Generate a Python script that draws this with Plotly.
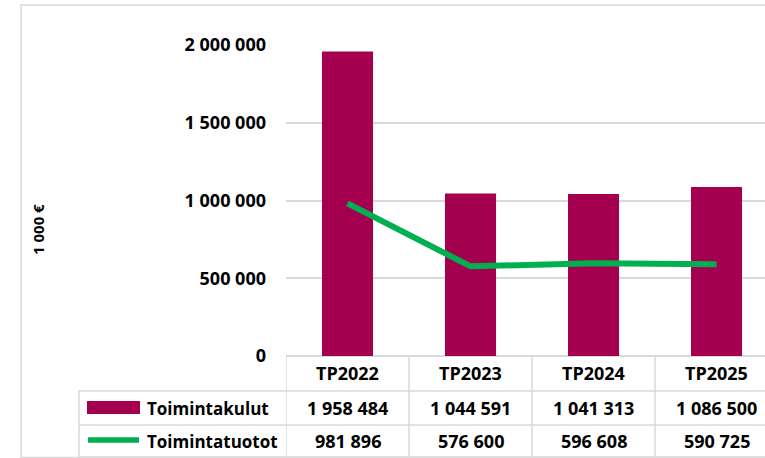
import plotly.graph_objects as go

W, H = 765, 458

# Data
years = ["TP2022", "TP2023", "TP2024", "TP2025"]
kulut = [1958484, 1044591, 1041313, 1086500]
tuotot = [981896, 576600, 596608, 590725]
kulut_labels = ["1 958 484", "1 044 591", "1 041 313", "1 086 500"]
tuotot_labels = ["981 896", "576 600", "596 608", "590 725"]

bar_color = "#A5004F"
line_color = "#00B050"
grid = "#D9D9D9"
font = "Open Sans"

def px(x):
    return x / W

def py(y):
    return 1 - y / H

fig = go.Figure()
fig.add_trace(go.Bar(x=years, y=kulut, width=0.415, marker=dict(color=bar_color, line=dict(width=0)),
                     name="Toimintakulut"))
fig.add_trace(go.Scatter(x=years, y=tuotot, mode="lines", line=dict(color=line_color, width=6),
                         name="Toimintatuotot"))

shapes = []
ann = []

# Outer chart border
shapes.append(dict(type="rect", xref="paper", yref="paper", x0=px(21), x1=px(780), y0=py(457.5), y1=py(5),
                   line=dict(color=grid, width=1.5), layer="below"))

# Data table: horizontal lines
for yy, xa in [(391, 79), (425, 79), (457, 79)]:
    shapes.append(dict(type="line", xref="paper", yref="paper", x0=px(xa), x1=1, y0=py(yy), y1=py(yy),
                       line=dict(color=grid, width=1.5)))
shapes.append(dict(type="line", xref="paper", yref="paper", x0=px(79), x1=px(79), y0=py(391), y1=py(457),
                   line=dict(color=grid, width=1.5)))
# vertical lines at category boundaries
for b in [-0.5, 0.5, 1.5, 2.5]:
    shapes.append(dict(type="line", xref="x", yref="paper", x0=b, x1=b, y0=py(356), y1=py(457),
                       line=dict(color=grid, width=1.5)))

# Legend keys
shapes.append(dict(type="rect", xref="paper", yref="paper", x0=px(87), x1=px(140), y0=py(414), y1=py(401),
                   fillcolor=bar_color, line=dict(width=0)))
shapes.append(dict(type="path", xref="paper", yref="paper",
                   path=f"M {px(88)},{py(440)} L {px(139)},{py(440)}",
                   line=dict(color=line_color, width=5.5)))

tf = dict(family=font, size=18, color="black", weight="bold")
lf = dict(family=font, size=17, color="black", weight="bold")
ann.append(dict(text="Toimintakulut", xref="paper", yref="paper", x=px(145), y=py(408), xanchor="left",
                yanchor="middle", showarrow=False, font=lf))
ann.append(dict(text="Toimintatuotot", xref="paper", yref="paper", x=px(145), y=py(441), xanchor="left",
                yanchor="middle", showarrow=False, font=lf))
for i, yr in enumerate(years):
    ann.append(dict(text=yr, xref="x", yref="paper", x=yr, y=py(373), showarrow=False, font=tf,
                    xanchor="center", yanchor="middle"))
    ann.append(dict(text=kulut_labels[i], xref="x", yref="paper", x=yr, y=py(408), showarrow=False, font=tf,
                    xanchor="center", yanchor="middle"))
    ann.append(dict(text=tuotot_labels[i], xref="x", yref="paper", x=yr, y=py(441), showarrow=False, font=tf,
                    xanchor="center", yanchor="middle"))

ann.append(dict(text="1 000 €", xref="paper", yref="paper", x=px(38), y=py(230), textangle=-90,
                xanchor="center", yanchor="middle",
                showarrow=False, font=dict(family=font, size=15, color="black", weight="bold")))

fig.update_layout(
    width=W, height=H,
    margin=dict(l=0, r=0, t=0, b=0, autoexpand=False),
    paper_bgcolor="white", plot_bgcolor="white",
    showlegend=False,
    separators=", ",
    bargap=0.585,
    shapes=shapes,
    annotations=ann,
    xaxis=dict(domain=[px(286), 1], range=[-0.5, 3.394], showticklabels=False, showgrid=False,
               zeroline=False, showline=False, ticks="", automargin=False),
    yaxis=dict(domain=[py(356), py(45)], range=[0, 2000000], dtick=500000, tickformat=",d",
               showgrid=True, gridcolor=grid, gridwidth=1.5, zeroline=True, zerolinecolor=grid,
               zerolinewidth=1.5, showline=False, ticks="", ticklabelstandoff=19, automargin=False,
               tickfont=dict(family=font, size=18, color="black", weight="bold")),
)

fig.write_html("out.html", config={"displayModeBar": False},
               post_script="document.body.style.margin='0';document.body.style.overflow='hidden';")
